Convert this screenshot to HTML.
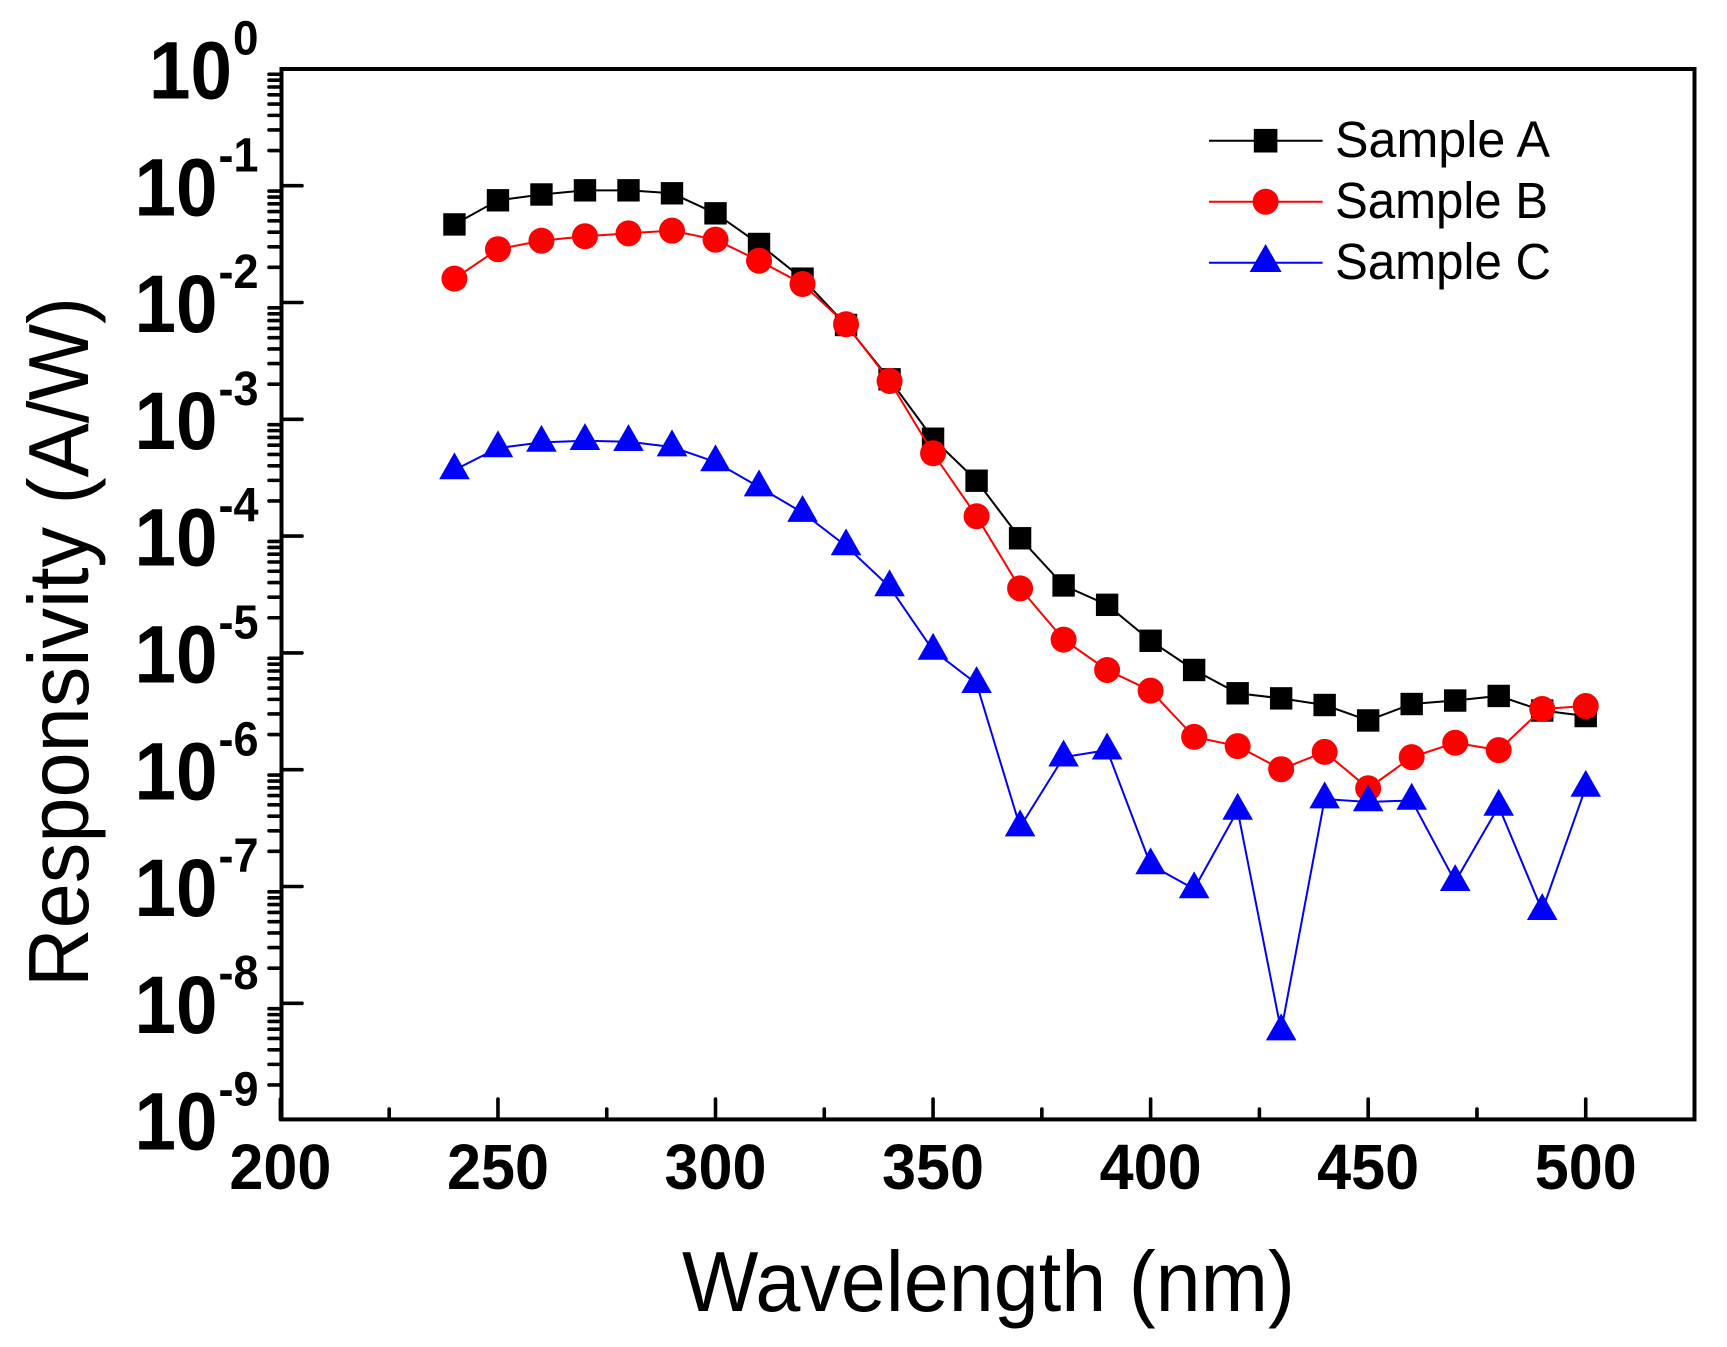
<!DOCTYPE html>
<html lang="en">
<head>
<meta charset="utf-8">
<title>Responsivity vs Wavelength</title>
<style>
  html, body { margin: 0; padding: 0; background: #fff; }
  svg { display: block; }
  text { font-family: "Liberation Sans", sans-serif; fill: #000; }
  .bold { font-weight: bold; }
</style>
</head>
<body>
<svg id="chart" xmlns="http://www.w3.org/2000/svg" width="1727" height="1347" viewBox="0 0 1727 1347">
  <rect x="0" y="0" width="1727" height="1347" fill="#fff"/>
  <g id="ticks"></g>
  <g id="labels"></g>
  <g id="series"></g>
  <rect x="281.5" y="69" width="1413" height="1050.4" fill="none" stroke="#000" stroke-width="4"/>

  <text x="682" y="1311" font-size="85" textLength="613" lengthAdjust="spacingAndGlyphs">Wavelength (nm)</text>
  <text transform="translate(88,987) rotate(-90)" font-size="85" textLength="690" lengthAdjust="spacingAndGlyphs">Responsivity (A/W)</text>

  <g>
    <g>
      <line x1="1209" y1="140.7" x2="1322.6" y2="140.7" stroke="#000" stroke-width="2"/>
      <rect x="1253.8" y="128.9" width="23.6" height="23.6" fill="#000"/>
      <text x="1335" y="157.2" font-size="51" textLength="215" lengthAdjust="spacingAndGlyphs">Sample A</text>
    </g>
    <g>
      <line x1="1209" y1="201.7" x2="1322.6" y2="201.7" stroke="#f00" stroke-width="2"/>
      <circle cx="1265.6" cy="201.7" r="13" fill="#f00"/>
      <text x="1335" y="218.2" font-size="51" textLength="213" lengthAdjust="spacingAndGlyphs">Sample B</text>
    </g>
    <g>
      <line x1="1209" y1="262.7" x2="1322.6" y2="262.7" stroke="#00f" stroke-width="2"/>
      <polygon points="1265.6,244 1281.6,272 1249.6,272" fill="#00f"/>
      <text x="1335" y="278.8" font-size="51" textLength="216" lengthAdjust="spacingAndGlyphs">Sample C</text>
    </g>
  </g>
</svg>
<script>
const wavelengths = [240,250,260,270,280,290,300,310,320,330,340,350,360,370,380,390,400,410,420,430,440,450,460,470,480,490,500];
const sampleA = [0.0466,0.0750,0.0841,0.0913,0.0913,0.0861,0.0580,0.0317,0.0160,0.00642,0.00220,6.82e-4,2.98e-4,9.58e-5,3.78e-5,2.58e-5,1.27e-5,7.14e-6,4.51e-6,4.08e-6,3.58e-6,2.64e-6,3.65e-6,3.91e-6,4.28e-6,3.21e-6,2.88e-6];
const sampleB = [0.0160,0.0286,0.0338,0.0369,0.0391,0.0412,0.0345,0.0228,0.0144,0.00651,0.00213,5.12e-4,1.48e-4,3.57e-5,1.30e-5,7.14e-6,4.75e-6,1.91e-6,1.59e-6,1.01e-6,1.42e-6,6.93e-7,1.28e-6,1.70e-6,1.47e-6,3.31e-6,3.51e-6];
const sampleC = [3.68e-4,5.68e-4,6.34e-4,6.56e-4,6.43e-4,5.79e-4,4.31e-4,2.63e-4,1.59e-4,8.23e-5,3.67e-5,1.05e-5,5.45e-6,3.23e-7,1.28e-6,1.47e-6,1.53e-7,9.52e-8,4.48e-7,5.79e-9,5.61e-7,5.29e-7,5.46e-7,1.10e-7,4.85e-7,6.20e-8,7.05e-7];
const xMajorTicks = [200,250,300,350,400,450,500];
const xMinorTicks = [225,275,325,375,425,475,525];
const yExponents = [0,-1,-2,-3,-4,-5,-6,-7,-8,-9];
const yMinorFactors = [2,3,4,5,6,7,8,9];

const NS = 'http://www.w3.org/2000/svg';
const X_MIN = 200, X_MAX = 525, PX_LEFT = 280.4, PX_RIGHT = 1694.5;
const LOG_TOP = 0, LOG_BOTTOM = -9, PY_TOP = 68.9, PY_BOTTOM = 1120.1;
function xScale(v) { return PX_LEFT + (v - X_MIN) * (PX_RIGHT - PX_LEFT) / (X_MAX - X_MIN); }
function yScale(v) { return PY_TOP + (LOG_TOP - Math.log10(v)) * (PY_BOTTOM - PY_TOP) / (LOG_TOP - LOG_BOTTOM); }

function make(tag, attrs, parent) {
  const el = document.createElementNS(NS, tag);
  for (const k in attrs) el.setAttribute(k, attrs[k]);
  parent.appendChild(el);
  return el;
}

const ticksG = document.getElementById('ticks');
const labelsG = document.getElementById('labels');
const seriesG = document.getElementById('series');
const AXIS_Y = 1119.4, AXIS_X = 281.5;
const tickStyle = { stroke: '#000', 'stroke-width': 3.6, 'stroke-linecap': 'round' };

xMajorTicks.forEach(function (v) {
  const t = make('line', Object.assign({ x1: xScale(v), x2: xScale(v), y1: AXIS_Y, y2: 1099 }, tickStyle), ticksG);
  
  
  const l = make('text', { x: xScale(v), y: 1189, 'font-size': 64, 'text-anchor': 'middle', class: 'bold', textLength: 102, lengthAdjust: 'spacingAndGlyphs' }, labelsG);
  l.textContent = String(v);
  
  
});
xMinorTicks.forEach(function (v) {
  const t = make('line', Object.assign({ x1: xScale(v), x2: xScale(v), y1: AXIS_Y, y2: 1109 }, tickStyle), ticksG);
  
  
});

yExponents.forEach(function (exp) {
  const py = yScale(Math.pow(10, exp));
  if (exp !== 0 && exp !== -9) {
    const t = make('line', Object.assign({ x1: AXIS_X, x2: 302, y1: py, y2: py }, tickStyle), ticksG);
    
    
  }
  if (exp < 0) {
    yMinorFactors.forEach(function (f) {
      const my = yScale(f * Math.pow(10, exp));
      const m = make('line', Object.assign({ x1: AXIS_X, x2: 269, y1: my, y2: my }, tickStyle), ticksG);
      
      
    });
  }
  const supText = String(exp);
  const supWidth = supText.length > 1 ? 40 : 25.5;
  const supX = 258.5 - supWidth;
  const base = make('text', { x: supX - 84, y: py + 29.6, 'font-size': 82, class: 'bold', textLength: 83, lengthAdjust: 'spacingAndGlyphs' }, labelsG);
  base.textContent = '10';
  
  
  const sup = make('text', { x: supX, y: py + 29.6 - 44, 'font-size': 48, class: 'bold', textLength: supWidth, lengthAdjust: 'spacingAndGlyphs' }, labelsG);
  sup.textContent = supText;
  
  
});

function linePoints(values) {
  return values.map(function (v, i) { return xScale(wavelengths[i]).toFixed(2) + ',' + yScale(v).toFixed(2); }).join(' ');
}

// Sample A: black squares
const lineA = make('polyline', { points: linePoints(sampleA), fill: 'none', stroke: '#000', 'stroke-width': 2 }, seriesG);


sampleA.forEach(function (v, i) {
  const cx = xScale(wavelengths[i]), cy = yScale(v);
  const m = make('rect', { x: cx - 11.2, y: cy - 11.2, width: 22.4, height: 22.4, fill: '#000' }, seriesG);
  
  
});

// Sample B: red circles
const lineB = make('polyline', { points: linePoints(sampleB), fill: 'none', stroke: '#f00', 'stroke-width': 2 }, seriesG);


sampleB.forEach(function (v, i) {
  const cx = xScale(wavelengths[i]), cy = yScale(v);
  const m = make('circle', { cx: cx, cy: cy, r: 13, fill: '#f00' }, seriesG);
  
  
});

// Sample C: blue triangles
const lineC = make('polyline', { points: linePoints(sampleC), fill: 'none', stroke: '#00f', 'stroke-width': 2 }, seriesG);


sampleC.forEach(function (v, i) {
  const cx = xScale(wavelengths[i]), cy = yScale(v);
  const pts = cx + ',' + (cy - 17.6) + ' ' + (cx + 15.3) + ',' + (cy + 9.3) + ' ' + (cx - 15.3) + ',' + (cy + 9.3);
  const m = make('polygon', { points: pts, fill: '#00f' }, seriesG);
  
  
});
</script>
</body>
</html>
